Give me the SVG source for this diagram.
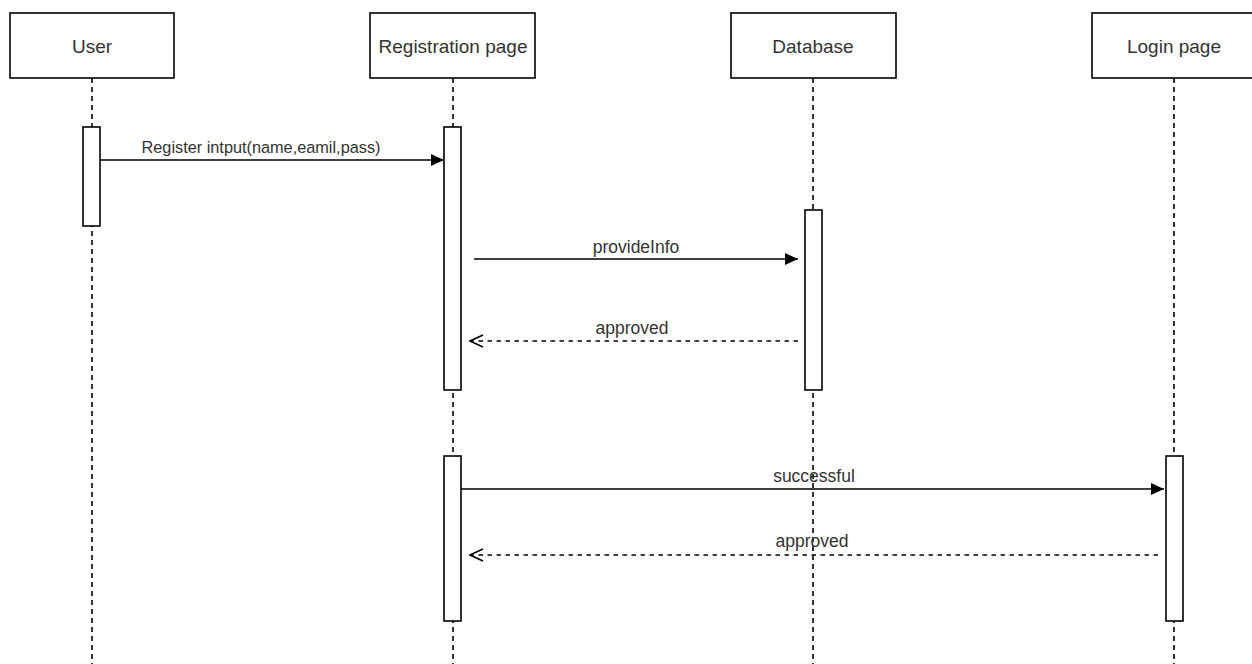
<svg xmlns="http://www.w3.org/2000/svg" width="1252" height="664" viewBox="0 0 1252 664">
<style>
.box{fill:#fff;stroke:#000;stroke-width:1.6}
.life{stroke:#000;stroke-width:1.6;stroke-dasharray:5 4;fill:none}
.act{fill:#fff;stroke:#000;stroke-width:1.6}
.hdr{font-family:"Liberation Sans",Arial,sans-serif;font-size:19px;fill:#333;text-anchor:middle}
.lbl{font-family:"Liberation Sans",Arial,sans-serif;font-size:17.5px;fill:#333;text-anchor:middle}
.msg{stroke:#000;stroke-width:1.6;fill:none}
.ret{stroke:#000;stroke-width:1.6;fill:none;stroke-dasharray:4.5 4.5}
</style>
<defs>
<marker id="block" viewBox="0 0 13 12" refX="13" refY="6" markerWidth="13" markerHeight="12" markerUnits="userSpaceOnUse" orient="auto">
<path d="M0,0 L13,6 L0,12 Z" fill="#000"/>
</marker>
<marker id="open" viewBox="0 0 15 14" refX="14" refY="7" markerWidth="15" markerHeight="14" markerUnits="userSpaceOnUse" orient="auto">
<path d="M1,1 L14,7 L1,13" fill="none" stroke="#000" stroke-width="1.6"/>
</marker>
</defs>
<rect width="1252" height="664" fill="#fff"/>
<g id="user">
<line class="life" x1="92" y1="78" x2="92" y2="664"/>
<rect class="box" x="10" y="13" width="164" height="65"/>
<text class="hdr" x="92" y="53">User</text>
<rect class="act" x="83" y="127" width="17" height="99"/>
</g>
<g id="registration">
<line class="life" x1="453" y1="78" x2="453" y2="664"/>
<rect class="box" x="370" y="13" width="165" height="65"/>
<text class="hdr" x="453" y="53">Registration page</text>
<rect class="act" x="444" y="127" width="17" height="263"/>
<rect class="act" x="444" y="456" width="17" height="165"/>
</g>
<g id="database">
<line class="life" x1="813" y1="78" x2="813" y2="664"/>
<rect class="box" x="731" y="13" width="165" height="65"/>
<text class="hdr" x="813" y="53">Database</text>
<rect class="act" x="805" y="210" width="17" height="180"/>
</g>
<g id="login">
<line class="life" x1="1174" y1="78" x2="1174" y2="664"/>
<rect class="box" x="1092" y="13" width="164" height="65"/>
<text class="hdr" x="1174" y="53">Login page</text>
<rect class="act" x="1166" y="456" width="17" height="165"/>
</g>
<g id="connectors">
<line class="msg" x1="100" y1="160" x2="444" y2="160" marker-end="url(#block)"/>
<text class="lbl" x="261" y="153" style="font-size:16.3px">Register intput(name,eamil,pass)</text>
<line class="msg" x1="474" y1="259" x2="798" y2="259" marker-end="url(#block)"/>
<text class="lbl" x="636" y="253">provideInfo</text>
<line class="ret" x1="798" y1="341" x2="470" y2="341" marker-end="url(#open)"/>
<text class="lbl" x="632" y="334">approved</text>
<line class="msg" x1="461" y1="489" x2="1164" y2="489" marker-end="url(#block)"/>
<text class="lbl" x="814" y="482">successful</text>
<line class="ret" x1="1158" y1="555" x2="470" y2="555" marker-end="url(#open)"/>
<text class="lbl" x="812" y="547">approved</text>
</g>
</svg>
